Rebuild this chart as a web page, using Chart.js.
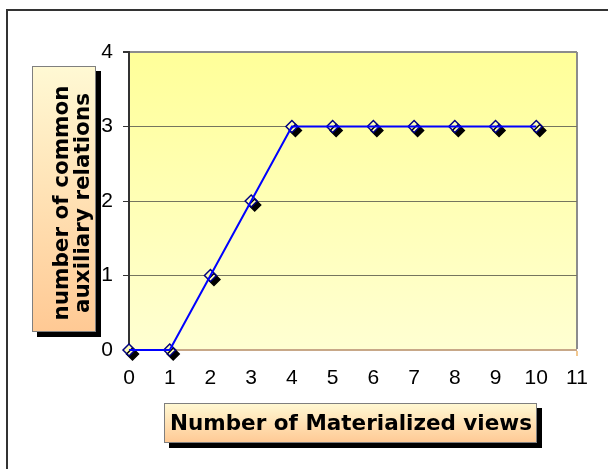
<!DOCTYPE html>
<html>
<head>
<meta charset="utf-8">
<script src="https://cdn.jsdelivr.net/npm/chart.js@4/dist/chart.umd.min.js"></script>
<style>
  html, body { margin: 0; padding: 0; background: #fff; }
  canvas { display: block; }
</style>
</head>
<body>
<canvas id="chart" width="608" height="469"></canvas>
<script>
// Data
const views = [0, 1, 2, 3, 4, 5, 6, 7, 8, 9, 10];
const relations = [0, 0, 1, 2, 3, 3, 3, 3, 3, 3, 3];
const xTicks = [0, 1, 2, 3, 4, 5, 6, 7, 8, 9, 10, 11];
const yTicks = [0, 1, 2, 3, 4];
const xTitle = 'Number of Materialized views';
const yTitleLines = ['number of common', 'auxiliary relations'];

const points = views.map((v, i) => ({ x: v, y: relations[i] }));

const TITLE_FONT = 'bold 21.5px "DejaVu Sans", Verdana, sans-serif';
const TICK_FONT = { family: '"Liberation Sans", Arial, sans-serif', size: 21 };

// Outer frame and plot background gradient
const backdrop = {
  id: 'backdrop',
  beforeDraw(chart) {
    const { ctx, chartArea: a } = chart;
    ctx.save();
    ctx.fillStyle = '#ffffff';
    ctx.fillRect(0, 0, chart.width, chart.height);
    ctx.strokeStyle = '#333333';
    ctx.lineWidth = 2;
    ctx.strokeRect(7, 10, chart.width + 10, chart.height + 10);
    const g = ctx.createLinearGradient(0, a.top, 0, a.bottom);
    g.addColorStop(0, '#ffff99');
    g.addColorStop(1, '#ffffd2');
    ctx.fillStyle = g;
    ctx.fillRect(a.left, a.top, a.right - a.left, a.bottom - a.top);
    ctx.restore();
  }
};

// Hard black drop shadow under the diamond markers
const markerShadow = {
  id: 'markerShadow',
  beforeDatasetDraw(chart, args) {
    if (args.index !== 1) return;
    const ctx = chart.ctx;
    ctx.save();
    ctx.shadowColor = '#000000';
    ctx.shadowOffsetX = 3.5;
    ctx.shadowOffsetY = 4;
    ctx.shadowBlur = 0;
  },
  afterDatasetDraw(chart, args) {
    if (args.index !== 1) return;
    chart.ctx.restore();
  }
};

function titleBox(ctx, x, y, w, h) {
  ctx.fillStyle = '#000000';
  ctx.fillRect(x + 5, y + 5, w, h);
  const g = ctx.createLinearGradient(0, y, 0, y + h);
  g.addColorStop(0, '#fff9d4');
  g.addColorStop(1, '#ffc994');
  ctx.fillStyle = g;
  ctx.fillRect(x, y, w, h);
  ctx.strokeStyle = '#7f7f7f';
  ctx.lineWidth = 1;
  ctx.strokeRect(x + 0.5, y + 0.5, w - 1, h - 1);
}

// Boxed axis titles
const axisTitles = {
  id: 'axisTitles',
  afterDraw(chart) {
    const ctx = chart.ctx;
    ctx.save();
    // y title
    titleBox(ctx, 32, 66, 64, 266);
    ctx.save();
    ctx.translate(64, 203);
    ctx.rotate(-Math.PI / 2);
    ctx.font = TITLE_FONT;
    ctx.fillStyle = '#000000';
    ctx.textAlign = 'center';
    ctx.textBaseline = 'middle';
    ctx.fillText(yTitleLines[0], 0, -2);
    ctx.fillText(yTitleLines[1], 0, 19.5);
    ctx.restore();
    // x title
    titleBox(ctx, 164, 403, 373, 40);
    ctx.font = TITLE_FONT;
    ctx.fillStyle = '#000000';
    ctx.textAlign = 'center';
    ctx.textBaseline = 'middle';
    ctx.fillText(xTitle, 351, 424);
    ctx.restore();
  }
};

new Chart(document.getElementById('chart'), {
  type: 'line',
  data: {
    datasets: [
      {
        data: points,
        borderColor: '#0000ff',
        borderWidth: 2,
        pointRadius: 0,
        fill: false,
        tension: 0,
        clip: false
      },
      {
        data: points,
        showLine: false,
        pointStyle: 'rectRot',
        pointRadius: 6,
        pointBackgroundColor: '#ffffb8',
        pointBorderColor: '#000080',
        pointBorderWidth: 1.5,
        clip: false
      }
    ]
  },
  options: {
    responsive: false,
    animation: false,
    events: [],
    layout: { padding: { left: 0, right: 31, top: 52, bottom: 0 } },
    plugins: { legend: { display: false }, tooltip: { enabled: false } },
    scales: {
      x: {
        type: 'linear',
        min: 0,
        max: 11,
        afterFit(s) { s.height = 119; },
        afterBuildTicks(s) { s.ticks = xTicks.map(v => ({ value: v })); },
        border: { display: true, color: '#c8a888', width: 2 },
        grid: {
          drawOnChartArea: true,
          color: c => (c.tick && c.tick.value === 11 ? '#8c8c8c' : 'rgba(0,0,0,0)'),
          lineWidth: c => (c.tick && c.tick.value === 11 ? 2 : 0),
          tickColor: '#f2c890',
          tickLength: 6
        },
        ticks: {
          padding: 10,
          color: '#000000',
          font: TICK_FONT,
          maxRotation: 0
        }
      },
      y: {
        min: 0,
        max: 4,
        afterFit(s) { s.width = 129; },
        afterBuildTicks(s) { s.ticks = yTicks.map(v => ({ value: v })); },
        border: { display: true, color: '#333333', width: 2 },
        grid: {
          color: c => {
            if (!c.tick) return 'rgba(0,0,0,0)';
            if (c.tick.value === 4) return '#8c8c8c';
            if (c.tick.value === 0) return 'rgba(0,0,0,0)';
            return '#75755e';
          },
          lineWidth: c => (c.tick && c.tick.value === 4 ? 2 : 1),
          tickColor: '#333333',
          tickLength: 6
        },
        ticks: {
          padding: 10,
          color: '#000000',
          font: TICK_FONT
        }
      }
    }
  },
  plugins: [backdrop, markerShadow, axisTitles]
});
</script>
</body>
</html>
